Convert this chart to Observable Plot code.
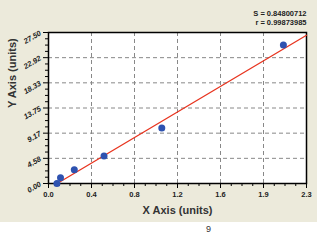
<!DOCTYPE html>
<html><head><meta charset="utf-8">
<script src="https://cdn.jsdelivr.net/npm/d3@7"></script>
<script src="https://cdn.jsdelivr.net/npm/@observablehq/plot@0.6"></script>
<style>
body{margin:0;background:#fff;font-family:"Liberation Sans",Arial,sans-serif;}
#wrap{position:relative;width:332px;height:243px;}
#bg{position:absolute;left:0;top:0;width:317px;height:222px;background:#ECEADB;}
#chart{position:absolute;left:0;top:0;}
#page{position:absolute;left:206px;top:224px;font-size:9px;color:#333;}
</style></head>
<body>
<div id="wrap"><div id="bg"></div><div id="chart"></div><div id="page">9</div></div>
<script>
const ptX = [0.075, 0.107, 0.23, 0.495, 1.01, 2.094];
const ptY = [0.0, 1.04, 2.5, 5.01, 10.13, 25.23];
const fitX = [0.07, 2.3];
const fitY = [-0.1, 27.0];
const xTickVals = [0, 2.3/6, 4.6/6, 6.9/6, 9.2/6, 11.5/6, 2.3];
const xTickLabels = ["0.0", "0.4", "0.8", "1.2", "1.6", "1.9", "2.3"];
const yTickVals = [0, 27.5/6, 55/6, 82.5/6, 110/6, 137.5/6, 27.5];
const yTickLabels = ["0.00", "4.58", "9.17", "13.75", "18.33", "22.92", "27.50"];
const statLines = ["S = 0.84800712", "r = 0.99873985"];
const xLabel = "X Axis (units)";
const yLabel = "Y Axis (units)";

const pts = ptX.map((x, i) => ({x, y: ptY[i]}));
const fit = fitX.map((x, i) => ({x, y: fitY[i]}));
const xMinor = [], yMinor = [];
for (let i = 0; i < 6; i++) for (let k = 1; k < 4; k++) {
  xMinor.push(xTickVals[i] + (xTickVals[i+1] - xTickVals[i]) * k / 4);
  yMinor.push(yTickVals[i] + (yTickVals[i+1] - yTickVals[i]) * k / 4);
}
const chart = Plot.plot({
  width: 317, height: 222,
  marginLeft: 48, marginRight: 11, marginTop: 32, marginBottom: 39,
  style: {background: "transparent", fontFamily: "'Liberation Sans', Arial, sans-serif"},
  x: {domain: [0, 2.3]},
  y: {domain: [0, 27.5]},
  marks: [
    Plot.frame({fill: "white", stroke: null}),
    Plot.gridX(xTickVals.slice(1, -1), {stroke: "#888", strokeOpacity: 1, strokeDasharray: "4,3"}),
    Plot.gridY(yTickVals.slice(1, -1), {stroke: "#888", strokeOpacity: 1, strokeDasharray: "4,3"}),
    Plot.axisX(xMinor, {tickSize: 3, text: null, label: null, stroke: "#000"}),
    Plot.axisY(yMinor, {tickSize: 3, text: null, label: null, stroke: "#000"}),
    Plot.axisX(xTickVals, {tickSize: 5, tickPadding: 3, tickFormat: (d, i) => xTickLabels[i], fontSize: 7.5, fontWeight: "bold", fill: "#222", label: null, stroke: "#000"}),
    Plot.axisY(yTickVals, {tickSize: 5, tickPadding: 3, tickRotate: -30, tickFormat: (d, i) => yTickLabels[i], fontSize: 7.5, fontWeight: "bold", fontStyle: "italic", fill: "#222", label: null, stroke: "#000"}),
    Plot.frame({stroke: "#000", strokeWidth: 1.5}),
    Plot.line(fit, {x: "x", y: "y", stroke: "#E8341F", strokeWidth: 1.3}),
    Plot.dot(pts, {x: "x", y: "y", r: 3.5, fill: "#2E52B0", stroke: null}),
    Plot.text([statLines[0]], {text: d => d, frameAnchor: "top-right", dy: -22, fontWeight: "bold", fontSize: 7.5, fill: "#222"}),
    Plot.text([statLines[1]], {text: d => d, frameAnchor: "top-right", dy: -13, fontWeight: "bold", fontSize: 7.5, fill: "#222"}),
    Plot.text([xLabel], {text: d => d, frameAnchor: "bottom", dy: 30, fontWeight: "bold", fontSize: 11, fill: "#333"}),
    Plot.text([yLabel], {text: d => d, frameAnchor: "left", dx: -36, rotate: -90, fontWeight: "bold", fontSize: 11, fill: "#333"})
  ]
});
document.getElementById("chart").appendChild(chart);
</script>
</body></html>
